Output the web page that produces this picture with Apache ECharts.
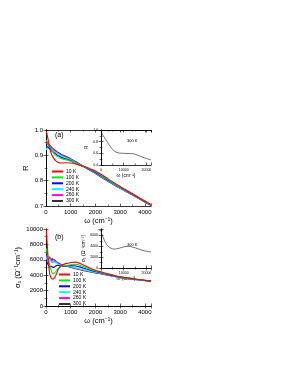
<!DOCTYPE html>
<html><head><meta charset="utf-8">
<script src="https://cdn.jsdelivr.net/npm/echarts@6/dist/echarts.min.js"></script>
<style>html,body{margin:0;padding:0;background:#fff}#c{width:291px;height:376px}</style>
</head><body><div id="c"></div>
<script>
const labels = ['10 K','100 K','200 K','240 K','260 K','300 K'];
const colors = ['#ff0000','#00ee00','#0000ff','#00ffff','#ff00ff','#333333'];

const freqR = [15, 50, 100, 150, 200, 300, 400, 500, 600, 700, 800, 1000, 1200, 1400, 1600, 1800, 2000, 2500, 3000, 3500, 4000, 4250];
const R10  = [0.995, 0.98, 0.955, 0.93, 0.91, 0.89, 0.878, 0.872, 0.87, 0.87, 0.871, 0.87, 0.866, 0.86, 0.854, 0.846, 0.838, 0.808, 0.777, 0.748, 0.72, 0.705];
const R100 = [0.96, 0.955, 0.945, 0.935, 0.925, 0.91, 0.9, 0.893, 0.888, 0.885, 0.883, 0.877, 0.869, 0.861, 0.853, 0.844, 0.835, 0.805, 0.775, 0.747, 0.719, 0.705];
const R200 = [0.93, 0.935, 0.93, 0.925, 0.92, 0.912, 0.905, 0.898, 0.893, 0.889, 0.886, 0.879, 0.869, 0.86, 0.852, 0.842, 0.832, 0.803, 0.774, 0.746, 0.718, 0.704];
const R240 = [0.92, 0.935, 0.935, 0.93, 0.925, 0.918, 0.911, 0.905, 0.899, 0.894, 0.89, 0.882, 0.871, 0.861, 0.852, 0.841, 0.83, 0.801, 0.772, 0.745, 0.718, 0.704];
const R260 = [0.95, 0.945, 0.94, 0.935, 0.93, 0.922, 0.915, 0.908, 0.902, 0.897, 0.893, 0.884, 0.873, 0.862, 0.852, 0.84, 0.829, 0.8, 0.771, 0.744, 0.717, 0.703];
const R300 = [0.955, 0.95, 0.945, 0.94, 0.935, 0.925, 0.918, 0.911, 0.905, 0.9, 0.896, 0.887, 0.876, 0.864, 0.853, 0.84, 0.828, 0.798, 0.77, 0.743, 0.716, 0.703];

const freqS = [10, 50, 100, 150, 200, 250, 300, 350, 400, 450, 500, 600, 700, 800, 1000, 1200, 1400, 1600, 1800, 2000, 2500, 3000, 3500, 4000, 4250];
const S10  = [10000, 8000, 5500, 4200, 3700, 3500, 3500, 3700, 4000, 4400, 4800, 5200, 5400, 5500, 5650, 5700, 5500, 5200, 4900, 4650, 4200, 3800, 3550, 3350, 3280];
const S100 = [7500, 6800, 6000, 5300, 4700, 4300, 4200, 4300, 4500, 4700, 4900, 5100, 5200, 5250, 5350, 5400, 5250, 5000, 4750, 4550, 4150, 3780, 3530, 3340, 3270];
const S200 = [6000, 5600, 5300, 5000, 5200, 5100, 5000, 5100, 5200, 5300, 5250, 5200, 5150, 5200, 5250, 5200, 5050, 4850, 4650, 4480, 4100, 3750, 3510, 3330, 3260];
const S240 = [6300, 6000, 5700, 6100, 5800, 5600, 5900, 5600, 5700, 5500, 5400, 5300, 5250, 5200, 5100, 4950, 4800, 4650, 4500, 4380, 4050, 3720, 3490, 3320, 3250];
const S260 = [6600, 6200, 5800, 6300, 6000, 5700, 6100, 5800, 5700, 5600, 5500, 5400, 5300, 5200, 5050, 4900, 4750, 4600, 4460, 4340, 4020, 3700, 3480, 3310, 3240];
const S300 = [6500, 6200, 6000, 6400, 5900, 6200, 5800, 6000, 5800, 5700, 5600, 5400, 5300, 5200, 5000, 4850, 4700, 4550, 4420, 4300, 4000, 3690, 3470, 3300, 3230];

const insetFreq = [0, 1000, 2000, 3000, 4000, 5000, 6000, 7000, 8000, 10000, 12000, 14000, 16000, 18000, 20000, 22000];
const insetR = [0.97, 0.9, 0.84, 0.78, 0.72, 0.67, 0.635, 0.615, 0.605, 0.6, 0.597, 0.595, 0.57, 0.54, 0.51, 0.49];
const insetS = [6800, 5600, 4700, 4100, 3750, 3550, 3500, 3550, 3650, 3900, 4000, 3850, 3600, 3300, 3100, 2950];

const FONT = 'Liberation Sans';
const chart = echarts.init(document.getElementById('c'), null, {renderer:'canvas'});

function pairs(xs, ys){ return xs.map((x,i)=>[x, ys[i]]); }

const grids = [
  {left:46, top:130, width:105, height:76},
  {left:46, top:229, width:105, height:77},
  {left:101, top:130, width:50, height:35},
  {left:101, top:229, width:50, height:39}
];

const tickStyle = {show:true, inside:true, length:2.5, lineStyle:{color:'#000', width:0.6}};
const minorStyle = {show:true, splitNumber:2, length:1.5, lineStyle:{color:'#000', width:0.5}};
const lineStyleAx = {show:true, lineStyle:{color:'#000', width:0.8}};

function xAx(gi, min, max, interval, fs, name, nameGap){
  return {gridIndex:gi, type:'value', min:min, max:max, interval:interval,
    axisLine:lineStyleAx, axisTick:tickStyle, minorTick:minorStyle, splitLine:{show:false},
    axisLabel:{show:true, fontSize:fs, color:'#000', fontFamily:FONT, margin:3, showMaxLabel:false,
      formatter:v=>String(v)},
    name:name, nameLocation:'middle', nameGap:nameGap,
    nameTextStyle:{fontSize:fs+1.5, fontFamily:FONT, color:'#000'}};
}
function xTop(gi, min, max, interval){
  return {gridIndex:gi, type:'value', position:'top', min:min, max:max, interval:interval,
    axisLine:lineStyleAx, axisTick:tickStyle, minorTick:minorStyle,
    splitLine:{show:false}, axisLabel:{show:false}};
}
function yAx(gi, min, max, interval, fs, name, nameGap, fmt, showMax){
  return {gridIndex:gi, type:'value', min:min, max:max, interval:interval,
    axisLine:lineStyleAx, axisTick:tickStyle, minorTick:minorStyle, splitLine:{show:false},
    axisLabel:{show:true, fontSize:fs, color:'#000', fontFamily:FONT, margin:3, formatter:fmt, showMaxLabel:showMax},
    name:name, nameLocation:'middle', nameGap:nameGap, nameRotate:90,
    nameTextStyle:{fontSize:fs+1.5, fontFamily:FONT, color:'#000'}};
}
function yRight(gi, min, max, interval){
  return {gridIndex:gi, type:'value', position:'right', min:min, max:max, interval:interval,
    axisLine:lineStyleAx, axisTick:tickStyle, minorTick:minorStyle,
    splitLine:{show:false}, axisLabel:{show:false}};
}

const xAxes = [
  xAx(0, 0, 4250, 1000, 6, 'ω (cm⁻¹)', 11),
  xAx(1, 0, 4250, 1000, 6, 'ω (cm⁻¹)', 11),
  xAx(2, 0, 22000, 10000, 3.5, 'ω (cm⁻¹)', 6),
  xAx(3, 0, 22000, 10000, 3.5, 'ω (cm⁻¹)', 6),
  xTop(0, 0, 4250, 1000), xTop(1, 0, 4250, 1000), xTop(2, 0, 22000, 10000), xTop(3, 0, 22000, 10000)
];
const yAxes = [
  yAx(0, 0.7, 1.0, 0.1, 6, 'R', 16, v=>v.toFixed(1), true),
  yAx(1, 0, 10000, 2000, 6, 'σ₁ (Ω⁻¹cm⁻¹)', 18, v=>String(v), true),
  yAx(2, 0.4, 1.0, 0.2, 3.5, 'R', 7, v=>v.toFixed(1), true),
  yAx(3, 0, 7200, 2000, 3.5, 'σ₁ (Ω⁻¹cm⁻¹)', 9, v=>String(v), false),
  yRight(0, 0.7, 1.0, 0.1), yRight(1, 0, 10000, 2000), yRight(2, 0.4, 1.0, 0.2), yRight(3, 0, 7200, 2000)
];

const Rsets = [R10, R100, R200, R240, R260, R300];
const Ssets = [S10, S100, S200, S240, S260, S300];
const series = [];
for (let i = 5; i >= 0; i--) {
  series.push({name:labels[i], type:'line', xAxisIndex:0, yAxisIndex:0, data:pairs(freqR, Rsets[i]),
    showSymbol:false, smooth:0.3, lineStyle:{color:colors[i], width:1.1}, itemStyle:{color:colors[i]}, z:3+(5-i)});
  series.push({name:labels[i], type:'line', xAxisIndex:1, yAxisIndex:1, data:pairs(freqS, Ssets[i]),
    showSymbol:false, smooth:0.2, lineStyle:{color:colors[i], width:1.1}, itemStyle:{color:colors[i]}, z:3+(5-i)});
}
series.push({name:'insetR', type:'line', xAxisIndex:2, yAxisIndex:2, data:pairs(insetFreq, insetR),
  showSymbol:false, smooth:0.3, lineStyle:{color:'#333', width:0.7}, z:10});
series.push({name:'insetS', type:'line', xAxisIndex:3, yAxisIndex:3, data:pairs(insetFreq, insetS),
  showSymbol:false, smooth:0.4, lineStyle:{color:'#333', width:0.7}, z:10});

function legend(left, top){
  return {data:labels, orient:'vertical', left:left, top:top, itemWidth:11, itemHeight:2, itemGap:0.9,
    icon:'rect', selectedMode:false, padding:0,
    textStyle:{fontSize:5, lineHeight:5, fontFamily:FONT, color:'#000', padding:[0,0,0,-2]}};
}

const opt = {
  animation:false,
  backgroundColor:'#fff',
  grid:grids,
  xAxis:xAxes,
  yAxis:yAxes,
  legend:[legend(52, 169), legend(59, 272)],
  series:series,
  graphic:[
    {type:'text', left:55, top:132, style:{text:'(a)', fontSize:7, fontFamily:FONT, fill:'#000'}},
    {type:'text', left:55, top:234, style:{text:'(b)', fontSize:7, fontFamily:FONT, fill:'#000'}},
    {type:'text', left:127, top:139, style:{text:'300 K', fontSize:4, fontFamily:FONT, fill:'#000'}},
    {type:'text', left:127, top:243, style:{text:'300 K', fontSize:4, fontFamily:FONT, fill:'#000'}}
  ]
};
chart.setOption(opt);
</script></body></html>
